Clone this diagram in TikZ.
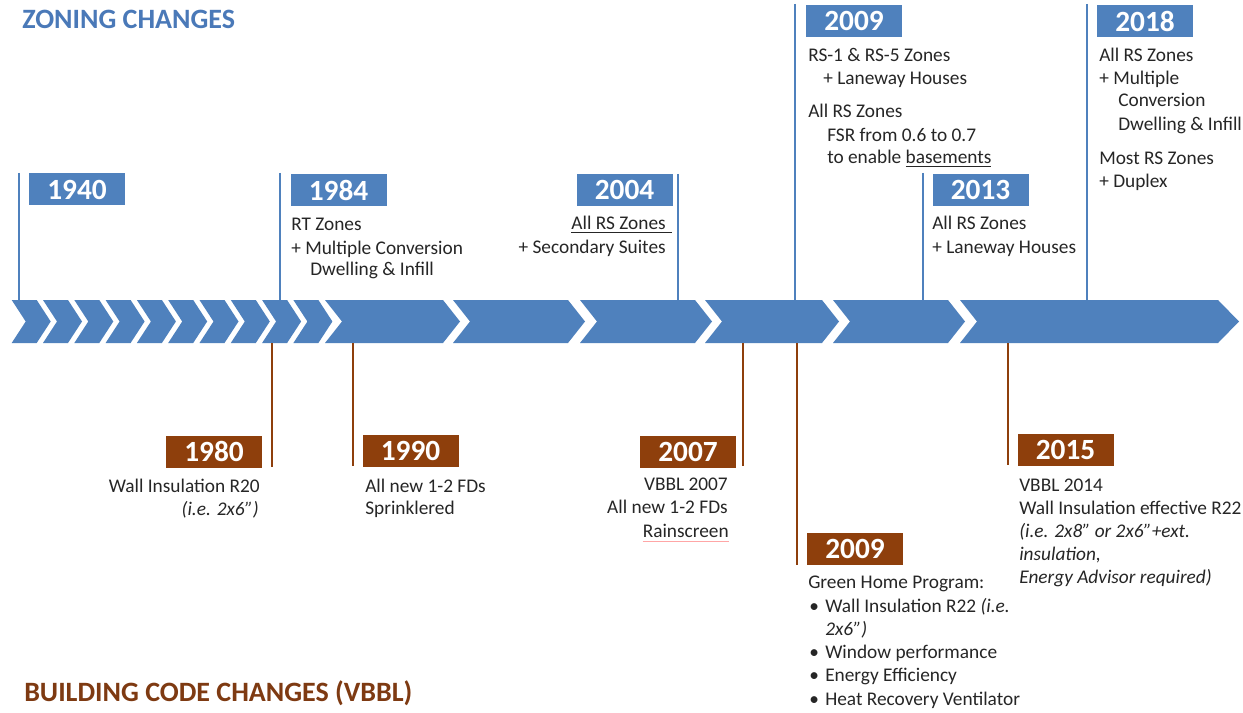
\documentclass[tikz,border=0pt]{standalone}
\usepackage{fontspec}
\setmainfont{Carlito}
\definecolor{zblue}{HTML}{4F81BD}
\definecolor{tblue}{HTML}{4A79B8}
\definecolor{bbrown}{HTML}{8E3F0C}
\definecolor{tbrown}{HTML}{7E3A12}
\definecolor{txtc}{HTML}{262626}
\begin{document}
\begin{tikzpicture}[x=0.75pt,y=-0.75pt,
  zline/.style={draw=zblue,line width=1.6pt},
  bline/.style={draw=bbrown,line width=1.6pt},
  ybox/.style={text=white,font=\bfseries\fontsize{22}{22}\selectfont,minimum width=72pt,minimum height=24pt,inner sep=0pt},
  zyear/.style={ybox,fill=zblue},
  byear/.style={ybox,fill=bbrown},
  tl/.style={anchor=base west,inner sep=0pt,text=txtc,font=\fontsize{14.5}{17}\selectfont},
  tr/.style={anchor=base east,inner sep=0pt,text=txtc,font=\fontsize{14.5}{17}\selectfont},
  title/.style={anchor=base west,inner sep=0pt,font=\bfseries\fontsize{21}{23}\selectfont}
]
\useasboundingbox[fill=white] (0,0) rectangle (1243,713);

% titles
\node[title,text=tblue] (tz) at (22,29) {ZONING CHANGES};
\node[title,text=tbrown] (tb) at (24,701) {BUILDING CODE CHANGES (VBBL)};

% small chevrons
\foreach \i in {0,...,9}{
  \pgfmathsetmacro{\xa}{11.7+31.3*\i}
  \pgfmathsetmacro{\xb}{\xa+25}
  \fill[zblue] (\xa,300) -- (\xb,300) -- (\xb+14,321.5) -- (\xb,343) -- (\xa,343) -- (\xa+14,321.5) -- cycle;
}
% big chevrons
\foreach \xa/\xb/\d in {325/443/17,453/568/17,580/695/17,705/822/17,833/948/17,960/1218/21}{
  \fill[zblue] (\xa,300) -- (\xb,300) -- (\xb+\d,321.5) -- (\xb,343) -- (\xa,343) -- (\xa+17,321.5) -- cycle;
}

% zoning lines
\foreach \n/\x/\t in {z1940/19/173,z1984/280/173,z2004/678/174,z2009/795/4,z2013/923/173,z2018/1087/4}{
  \coordinate (\n t) at (\x,\t);
  \coordinate (\n b) at (\x,300);
  \draw[zline] (\n t) -- (\n b);
}
% building lines
\foreach \n/\x/\t in {b1980/272/467,b1990/353/466,b2007/743/466,b2009/797/565,b2015/1008/465}{
  \coordinate (\n t) at (\x,343);
  \coordinate (\n b) at (\x,\t);
  \draw[bline] (\n t) -- (\n b);
}

% zoning year boxes
\node[zyear] (y1940) at (77,189.5) {1940};
\node[zyear] (y1984) at (338.5,190) {1984};
\node[zyear] (y2004) at (624.5,190) {2004};
\node[zyear] (y2009) at (854,21) {2009};
\node[zyear] (y2013) at (980.5,190) {2013};
\node[zyear] (y2018) at (1145,21) {2018};

% building year boxes
\node[byear] (x1980) at (214,451.5) {1980};
\node[byear] (x1990) at (410.5,450.5) {1990};
\node[byear] (x2007) at (688,451.5) {2007};
\node[byear] (x2009) at (855,549) {2009};
\node[byear] (x2015) at (1065.5,449.5) {2015};

% 1984
\node[tl] (a1) at (291,231) {RT Zones};
\node[tl] (a2) at (291,254) {+ Multiple Conversion};
\node[tl] (a3) at (310,276) {Dwelling \& Infill};
% 2004
\node[tr] (c1) at (672,230) {\underline{All RS Zones\hspace{4.5pt}}};
\node[tr] (c2) at (666,253) {+ Secondary Suites};
% 2009 zoning
\node[tl] (d1) at (808,62) {RS-1 \& RS-5 Zones};
\node[tl] (d2) at (823,85) {+ Laneway Houses};
\node[tl] (d3) at (808,118) {All RS Zones};
\node[tl] (d4) at (827,142) {FSR from 0.6 to 0.7};
\node[tl] (d5) at (827,164) {to enable \underline{basements}};
% 2013
\node[tl] (e1) at (932,230) {All RS Zones};
\node[tl] (e2) at (932,253) {+ Laneway Houses};
% 2018
\node[tl] (f1) at (1099,62) {All RS Zones};
\node[tl] (f2) at (1099,85) {+ Multiple};
\node[tl] (f3) at (1118,107) {Conversion};
\node[tl] (f4) at (1118,131) {Dwelling \& Infill};
\node[tl] (f5) at (1099,165) {Most RS Zones};
\node[tl] (f6) at (1099,188) {+ Duplex};

% 1980
\node[tr] (g1) at (260,492) {Wall Insulation R20};
\node[tr] (g2) at (259,515) {\itshape (i.e. 2x6”)};
% 1990
\node[tl] (h1) at (365,492) {All new 1-2 FDs};
\node[tl] (h2) at (365,514) {Sprinklered};
% 2007
\node[tr] (k1) at (728,490) {VBBL 2007};
\node[tr] (k2) at (728,513) {All new 1-2 FDs};
\node[tr] (k3) at (729,537) {Rainscreen};
\draw[red!35,line width=0.6pt] ([yshift=-3pt]k3.base west) -- ([yshift=-3pt]k3.base east);
% 2009 building
\node[tl] (m0) at (808,588) {Green Home Program:};
\foreach \yy/\tx/\nm in {612/{Wall Insulation R22 \textit{(i.e.}}/m1,658/{Window performance}/m3,681/{Energy Efficiency}/m4,705/{Heat Recovery Ventilator}/m5}{
  \node[tl] (\nm b) at (809,\yy) {•};
  \node[tl] (\nm) at (825,\yy) {\tx};
}
\node[tl] (m2) at (825,635) {\itshape 2x6”)};
% 2015
\node[tl] (n1) at (1019,491) {VBBL 2014};
\node[tl] (n2) at (1019,514) {Wall Insulation effective R22};
\node[tl] (n3) at (1019,537) {\itshape (i.e. 2x8” or 2x6”+ext.};
\node[tl] (n4) at (1019,560) {\itshape insulation,};
\node[tl] (n5) at (1019,583) {\itshape Energy Advisor required)};
\end{tikzpicture}
\end{document}
